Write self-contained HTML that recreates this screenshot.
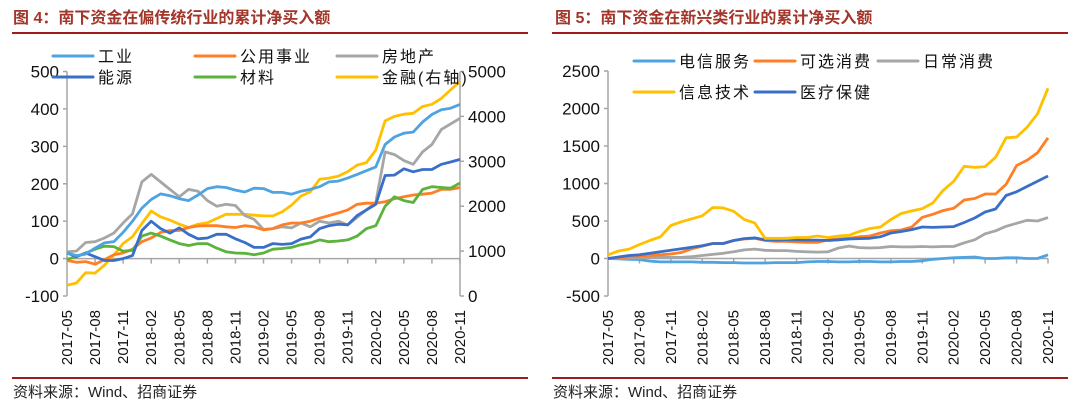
<!DOCTYPE html>
<html><head><meta charset="utf-8">
<style>
body{margin:0;background:#fff;}
svg{display:block;font-family:"Liberation Sans","Noto Sans CJK SC",sans-serif;}
</style></head>
<body>
<svg id="c" width="1080" height="406" viewBox="0 0 1080 406">
<text x="13" y="23" font-size="16" font-weight="bold" fill="#a3362a">图 4：南下资金在偏传统行业的累计净买入额</text>
<text x="555" y="23" font-size="16" font-weight="bold" fill="#a3362a">图 5：南下资金在新兴类行业的累计净买入额</text>
<line x1="12" y1="33" x2="528" y2="33" stroke="#a01c1c" stroke-width="2"/>
<line x1="552" y1="33" x2="1068" y2="33" stroke="#a01c1c" stroke-width="2"/>
<line x1="12" y1="378" x2="528" y2="378" stroke="#a01c1c" stroke-width="2"/>
<line x1="552" y1="378" x2="1068" y2="378" stroke="#a01c1c" stroke-width="2"/>
<text x="13" y="397" font-size="15" fill="#222">资料来源：Wind、招商证券</text>
<text x="553" y="397" font-size="15" fill="#222">资料来源：Wind、招商证券</text>
</svg>
<script>
const months = [];
for (let y = 2017, m = 5; months.length < 43; ) { months.push(y + '-' + String(m).padStart(2, '0')); m++; if (m > 12) { m = 1; y++; } }
// left chart data
const gongye = [15,8,12,28,42,45,70,100,135,158,173,168,160,155,170,187,192,190,183,178,188,187,177,177,172,180,185,192,205,207,215,225,235,245,305,325,335,338,365,385,398,402,412];
const gongyong = [-5,-10,-8,-15,-3,10,15,25,45,55,70,75,75,83,87,88,88,85,83,88,85,77,80,90,95,95,100,108,115,122,130,145,148,148,152,160,165,170,172,175,185,185,190];
const fangdichan = [18,20,43,45,55,68,95,120,205,225,205,185,165,185,180,155,140,145,142,115,105,78,80,85,82,95,85,100,95,100,90,110,130,150,285,278,262,252,285,305,345,360,375];
const nengyuan = [15,5,15,5,-5,-5,0,8,75,100,80,68,82,65,53,55,65,65,53,43,30,30,40,38,40,52,58,80,88,92,90,115,130,145,222,223,240,232,238,238,252,258,265];
const cailiao = [-2,5,15,25,33,32,20,22,60,68,60,50,40,35,40,40,28,18,15,14,10,15,25,27,30,37,42,50,45,47,50,60,80,88,140,165,155,150,185,192,190,188,202];
const jinrong = [240,290,520,510,685,910,1170,1320,1615,1890,1765,1690,1600,1525,1600,1630,1725,1820,1820,1820,1800,1785,1785,1875,2025,2225,2320,2600,2625,2670,2770,2915,2970,3250,3900,4000,4050,4070,4220,4270,4400,4590,4780];
const leftTicks = [-100,0,100,200,300,400,500];
const rightTicks = [0,1000,2000,3000,4000,5000];
// right chart data
const dianxin = [0,-5,-10,-15,-35,-45,-45,-45,-45,-50,-50,-55,-55,-60,-60,-60,-55,-55,-55,-45,-40,-40,-45,-45,-40,-40,-45,-45,-40,-40,-30,-10,0,10,15,20,0,0,10,10,0,0,50];
const kexuan = [0,10,20,30,40,50,60,80,130,165,200,200,240,260,270,240,230,230,220,215,215,250,260,270,290,300,340,370,380,420,550,590,640,670,780,800,860,860,990,1240,1310,1410,1610];
const richang = [0,0,5,10,15,20,15,15,25,40,55,70,90,115,125,110,105,105,95,90,85,90,140,165,145,140,145,160,155,155,160,155,160,160,210,250,330,370,430,470,510,500,545];
const xinxi = [50,100,125,185,240,290,440,490,530,570,680,675,630,520,475,270,270,270,280,280,300,280,300,310,360,400,420,520,600,635,665,740,910,1030,1230,1215,1225,1350,1610,1620,1750,1930,2270];
const yiliao = [0,20,40,50,70,90,110,130,150,170,200,200,240,265,275,250,245,250,250,245,245,240,250,260,265,270,290,340,360,385,420,415,420,425,480,540,620,660,840,890,960,1030,1100];
const r2Ticks = [-500,0,500,1000,1500,2000,2500];

const svg = document.getElementById('c');
const NS = 'http://www.w3.org/2000/svg';
function mk(tag, attrs, parent) { const e = document.createElementNS(NS, tag); for (const k in attrs) e.setAttribute(k, attrs[k]); (parent || svg).appendChild(e); return e; }

function drawChart(cfg) {
  const g = mk('g', {});
  
  
  const xs = i => cfg.x0 + (cfg.x1 - cfg.x0) * i / (months.length - 1);
  const ys = v => cfg.yTop + (cfg.yMax - v) / (cfg.yMax - cfg.yMin) * (cfg.yBot - cfg.yTop);
  const zeroY = ys(0);
  const ax = mk('line', {x1: cfg.x0, y1: cfg.yTop, x2: cfg.x0, y2: cfg.yBot, stroke: '#a6a6a6', 'stroke-width': 1.5}, g);
  
  
  cfg.ticks.forEach(t => {
    const y = ys(t);
    mk('line', {x1: cfg.x0 - 4, y1: y, x2: cfg.x0, y2: y, stroke: '#a6a6a6', 'stroke-width': 1.5}, g);
    const tx = mk('text', {x: cfg.x0 - 8, y: y + 6, 'font-size': 17, 'text-anchor': 'end', fill: '#111'}, g);
    tx.textContent = t;
    
    
  });
  const xa = mk('line', {x1: cfg.x0, y1: zeroY, x2: cfg.x1, y2: zeroY, stroke: '#a6a6a6', 'stroke-width': 1.5}, g);
  
  
  months.forEach((m, i) => {
    if (i % 3 !== 0) return;
    const x = xs(i);
    if (i > 0) mk('line', {x1: x, y1: zeroY, x2: x, y2: zeroY + 5, stroke: '#a6a6a6', 'stroke-width': 1.5}, g);
    const tx = mk('text', {x: 0, y: 0, 'font-size': 15, 'text-anchor': 'end', fill: '#111', transform: `translate(${x + 5},${cfg.labY}) rotate(-90)`}, g);
    tx.textContent = m;
    
    
  });
  if (cfg.right) {
    const r = cfg.right;
    const yr = v => cfg.yTop + (r.max - v) / (r.max - r.min) * (cfg.yBot - cfg.yTop);
    const ra = mk('line', {x1: cfg.x1, y1: cfg.yTop, x2: cfg.x1, y2: cfg.yBot, stroke: '#a6a6a6', 'stroke-width': 1.5}, g);
    
    
    r.ticks.forEach(t => {
      const y = yr(t);
      mk('line', {x1: cfg.x1, y1: y, x2: cfg.x1 + 4, y2: y, stroke: '#a6a6a6', 'stroke-width': 1.5}, g);
      const tx = mk('text', {x: cfg.x1 + 8, y: y + 6, 'font-size': 17, fill: '#111'}, g);
      tx.textContent = t;
      
      
    });
    cfg.rightScale = yr;
  }
  cfg.series.forEach(s => {
    const sc = s.right ? cfg.rightScale : ys;
    const pts = s.data.map((v, i) => xs(i).toFixed(1) + ',' + sc(v).toFixed(1)).join(' ');
    const p = mk('polyline', {points: pts, fill: 'none', stroke: s.color, 'stroke-width': 2.8, 'stroke-linejoin': 'round'}, g);
    
    
  });
  cfg.legend.forEach(l => {
    const lg = mk('g', {}, g);
    
    
    mk('line', {x1: l.x, y1: l.y, x2: l.x + 40, y2: l.y, stroke: l.color, 'stroke-width': 3, 'stroke-linecap': 'round'}, lg);
    const t = mk('text', {x: l.x + 45, y: l.y + 6, 'font-size': 16, fill: '#111', 'letter-spacing': 2}, lg);
    t.textContent = l.label;
  });
}

drawChart({
  name: 'left-chart', x0: 67, x1: 460, yTop: 71.5, yBot: 296, yMin: -100, yMax: 500, labY: 310,
  ticks: leftTicks,
  right: {min: 0, max: 5000, ticks: rightTicks},
  series: [
    {id: 'jinrong', data: jinrong, color: '#ffc000', right: true},
    {id: 'fangdichan', data: fangdichan, color: '#a6a6a6'},
    {id: 'gongyong', data: gongyong, color: '#ff7f27'},
    {id: 'cailiao', data: cailiao, color: '#5bb33c'},
    {id: 'nengyuan', data: nengyuan, color: '#3a6fc8'},
    {id: 'gongye', data: gongye, color: '#4ea3e0'}
  ],
  legend: [
    {x: 53, y: 56, color: '#4ea3e0', label: '工业'},
    {x: 195, y: 56, color: '#ff7f27', label: '公用事业'},
    {x: 337, y: 56, color: '#a6a6a6', label: '房地产'},
    {x: 53, y: 77, color: '#3a6fc8', label: '能源'},
    {x: 195, y: 77, color: '#5bb33c', label: '材料'},
    {x: 337, y: 77, color: '#ffc000', label: '金融(右轴)'}
  ]
});
drawChart({
  name: 'right-chart', x0: 608, x1: 1048, yTop: 71, yBot: 296, yMin: -500, yMax: 2500, labY: 310,
  ticks: r2Ticks,
  series: [
    {id: 'dianxin', data: dianxin, color: '#4ea3e0'},
    {id: 'richang', data: richang, color: '#a6a6a6'},
    {id: 'kexuan', data: kexuan, color: '#ff7f27'},
    {id: 'yiliao', data: yiliao, color: '#3a6fc8'},
    {id: 'xinxi', data: xinxi, color: '#ffc000'}
  ],
  legend: [
    {x: 634, y: 61, color: '#4ea3e0', label: '电信服务'},
    {x: 755, y: 61, color: '#ff7f27', label: '可选消费'},
    {x: 878, y: 61, color: '#a6a6a6', label: '日常消费'},
    {x: 634, y: 92, color: '#ffc000', label: '信息技术'},
    {x: 755, y: 92, color: '#3a6fc8', label: '医疗保健'}
  ]
});
</script>
</body></html>
